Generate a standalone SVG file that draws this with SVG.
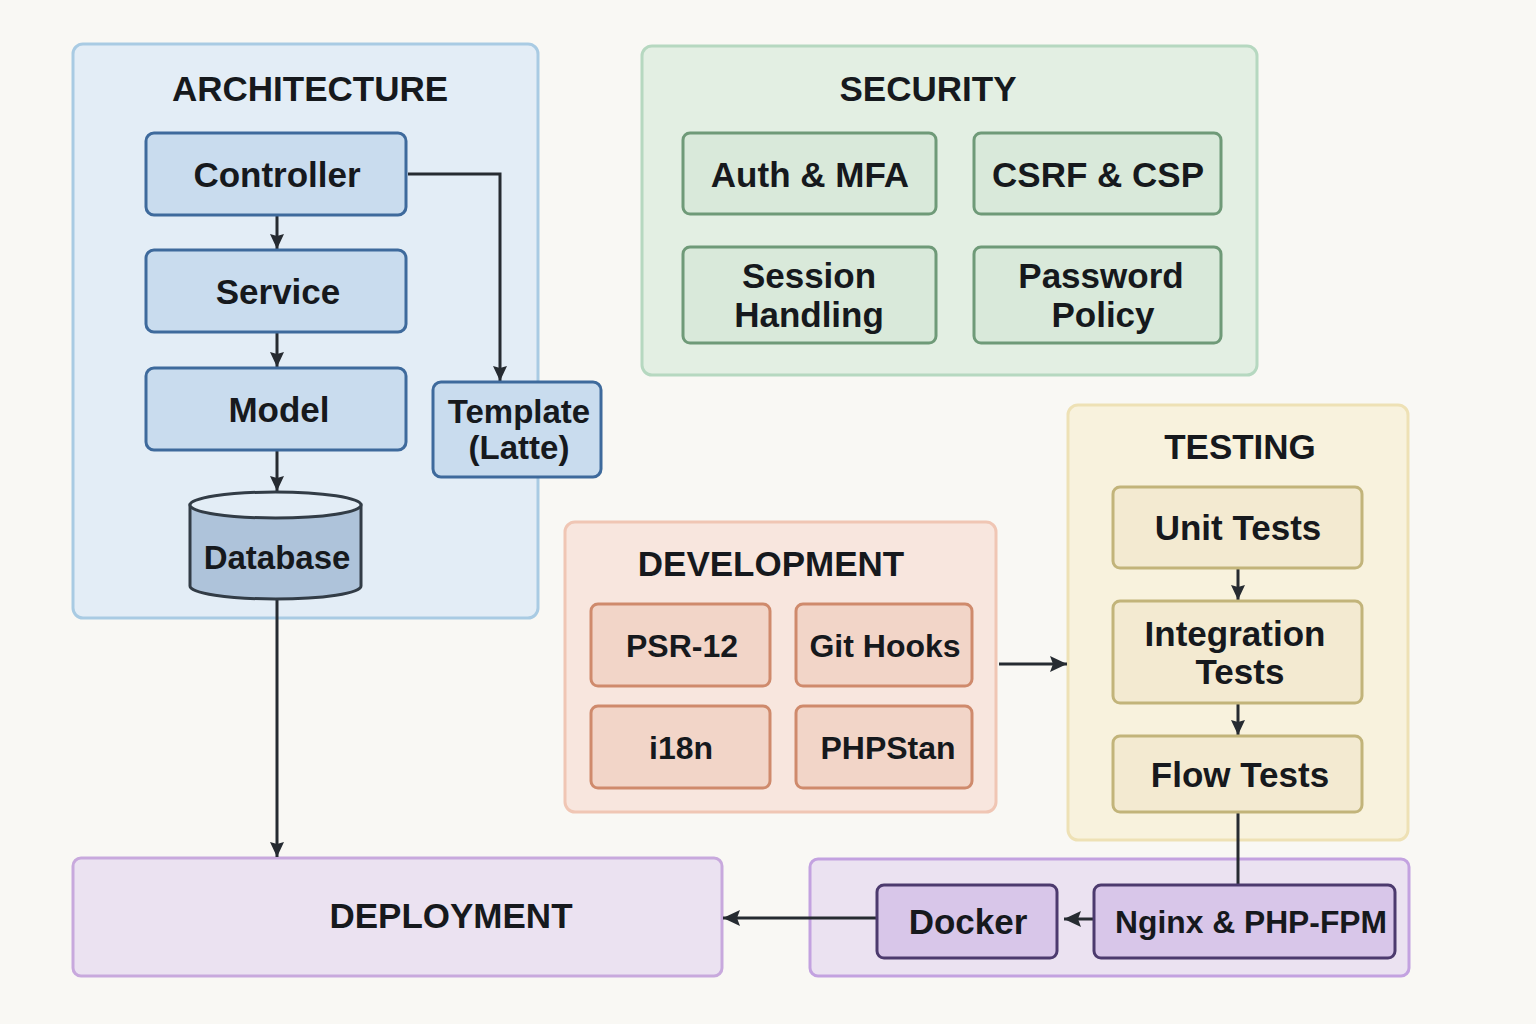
<svg xmlns="http://www.w3.org/2000/svg" width="1536" height="1024" viewBox="0 0 1536 1024">
<defs>
<marker id="ah" markerWidth="16" markerHeight="16" refX="15" refY="8" orient="auto" markerUnits="userSpaceOnUse">
<path d="M0,1 L15,8 L0,15 L2,8 Z" fill="#262b31"/>
</marker>
<marker id="ahb" markerWidth="18" markerHeight="18" refX="17" refY="9" orient="auto" markerUnits="userSpaceOnUse">
<path d="M0,1 L17,9 L0,17 L3,9 Z" fill="#262b31"/>
</marker>
<style>
text{font-family:"Liberation Sans","DejaVu Sans",sans-serif;font-weight:bold;fill:#16191d;text-anchor:middle}
.h{font-size:35px}
.t{font-size:35px}
.s{font-size:33px}
.n{font-size:32px}
.conn{fill:none;stroke:#262b31;stroke-width:3}
.arch{fill:#c9dcee;stroke:#3e6a9c;stroke-width:3}
.sec{fill:#d9e9da;stroke:#6f9a78;stroke-width:3}
.dev{fill:#f2d5c8;stroke:#cf8a6c;stroke-width:3}
.tst{fill:#f3ead1;stroke:#c2b47a;stroke-width:3}
.dep{fill:#d8c6e9;stroke:#4c3a6e;stroke-width:3}
</style>
</defs>
<rect width="1536" height="1024" fill="#f9f8f4"/>

<g id="architecture">
<rect x="73" y="44" width="465" height="574" rx="10" fill="#e3edf6" stroke="#a9cbe3" stroke-width="3"/>
<text class="h" x="310" y="101">ARCHITECTURE</text>
</g>
<g id="security">
<rect x="642" y="46" width="615" height="329" rx="10" fill="#e3efe3" stroke="#b6d8c0" stroke-width="3"/>
<text class="h" x="928" y="101">SECURITY</text>
</g>
<g id="testing">
<rect x="1068" y="405" width="340" height="435" rx="10" fill="#f8f2dd" stroke="#eee1b5" stroke-width="3"/>
<text class="h" x="1240" y="459">TESTING</text>
</g>
<g id="development">
<rect x="565" y="522" width="431" height="290" rx="10" fill="#f8e6de" stroke="#f0c6b4" stroke-width="3"/>
<text class="h" x="771" y="576">DEVELOPMENT</text>
</g>
<g id="deployment">
<rect x="73" y="858" width="649" height="118" rx="8" fill="#ebe2f1" stroke="#c8a9dd" stroke-width="3"/>
<text class="h" x="451" y="928">DEPLOYMENT</text>
</g>
<g id="deploy-stack">
<rect x="810" y="859" width="599" height="117" rx="8" fill="#ebe2f1" stroke="#c3a2e0" stroke-width="3"/>
</g>

<g id="connectors">
<line class="conn" x1="277" y1="216" x2="277" y2="249" marker-end="url(#ah)"/>
<line class="conn" x1="277" y1="333" x2="277" y2="367" marker-end="url(#ah)"/>
<line class="conn" x1="277" y1="451" x2="277" y2="491" marker-end="url(#ah)"/>
<polyline class="conn" points="408,174 500,174 500,381" marker-end="url(#ah)"/>
<line class="conn" x1="277" y1="600" x2="277" y2="857" marker-end="url(#ah)"/>
<line class="conn" x1="999" y1="664" x2="1067" y2="664" marker-end="url(#ahb)"/>
<line class="conn" x1="1238" y1="569" x2="1238" y2="600" marker-end="url(#ah)"/>
<line class="conn" x1="1238" y1="704" x2="1238" y2="735" marker-end="url(#ah)"/>
<line class="conn" x1="1238" y1="813" x2="1238" y2="885"/>
<line class="conn" x1="1094" y1="919" x2="1064" y2="919" marker-end="url(#ahb)"/>
<line class="conn" x1="877" y1="918" x2="723" y2="918" marker-end="url(#ahb)"/>
</g>

<g id="controller"><rect class="arch" x="146" y="133" width="260" height="82" rx="8"/><text class="t" x="277" y="187">Controller</text></g>
<g id="service"><rect class="arch" x="146" y="250" width="260" height="82" rx="8"/><text class="t" x="278" y="304">Service</text></g>
<g id="model"><rect class="arch" x="146" y="368" width="260" height="82" rx="8"/><text class="t" x="279" y="422">Model</text></g>
<g id="template"><rect class="arch" x="433" y="382" width="168" height="95" rx="8" fill="#d6e6f3"/><text class="s" x="519" y="423">Template</text><text class="s" x="519" y="459">(Latte)</text></g>
<g id="database">
<path d="M190,505 L190,586 A85.5,13 0 0 0 361,586 L361,505 Z" fill="#aec3da" stroke="#323c46" stroke-width="3"/>
<ellipse cx="275.5" cy="505" rx="85.5" ry="13" fill="#e3edf6" stroke="#323c46" stroke-width="3"/>
<text class="s" x="277" y="569">Database</text>
</g>

<g id="auth"><rect class="sec" x="683" y="133" width="253" height="81" rx="7"/><text class="t" x="810" y="187">Auth &amp; MFA</text></g>
<g id="csrf"><rect class="sec" x="974" y="133" width="247" height="81" rx="7"/><text class="t" x="1098" y="187">CSRF &amp; CSP</text></g>
<g id="session"><rect class="sec" x="683" y="247" width="253" height="96" rx="7"/><text class="t" x="809" y="288">Session</text><text class="t" x="809" y="327">Handling</text></g>
<g id="password"><rect class="sec" x="974" y="247" width="247" height="96" rx="7"/><text class="t" x="1101" y="288">Password</text><text class="t" x="1103" y="327">Policy</text></g>

<g id="psr12"><rect class="dev" x="591" y="604" width="179" height="82" rx="7"/><text class="n" x="682" y="657">PSR-12</text></g>
<g id="githooks"><rect class="dev" x="796" y="604" width="176" height="82" rx="7"/><text class="n" x="885" y="657">Git Hooks</text></g>
<g id="i18n"><rect class="dev" x="591" y="706" width="179" height="82" rx="7"/><text class="n" x="681" y="759">i18n</text></g>
<g id="phpstan"><rect class="dev" x="796" y="706" width="176" height="82" rx="7"/><text class="n" x="888" y="759">PHPStan</text></g>

<g id="unit"><rect class="tst" x="1113" y="487" width="249" height="81" rx="7"/><text class="t" x="1238" y="540">Unit Tests</text></g>
<g id="integration"><rect class="tst" x="1113" y="601" width="249" height="102" rx="7"/><text class="t" x="1235" y="646">Integration</text><text class="t" x="1240" y="684">Tests</text></g>
<g id="flow"><rect class="tst" x="1113" y="736" width="249" height="76" rx="7"/><text class="t" x="1240" y="787">Flow Tests</text></g>

<g id="docker"><rect class="dep" x="877" y="885" width="180" height="73" rx="7"/><text class="t" x="968" y="934">Docker</text></g>
<g id="nginx"><rect class="dep" x="1094" y="885" width="301" height="73" rx="7"/><text class="n" x="1251" y="933" textLength="272" lengthAdjust="spacingAndGlyphs">Nginx &amp; PHP-FPM</text></g>
</svg>
